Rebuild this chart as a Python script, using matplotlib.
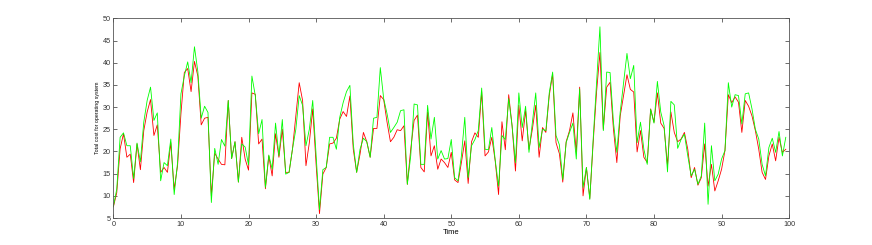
import numpy as np
import matplotlib
matplotlib.use("Agg")
import matplotlib.pyplot as plt

plt.rcParams['font.family'] = ['Liberation Sans', 'DejaVu Sans']

time = np.arange(0, 100, 0.5)

cost_red = [
    7.5, 10.7, 20.6, 24.0, 18.7, 19.4, 13.0, 21.7, 15.9, 24.7,
    28.9, 31.7, 23.6, 26.0, 15.3, 16.4, 15.3, 22.0, 11.5, 16.8,
    28.5, 37.8, 38.7, 33.5, 40.3, 37.0, 26.0, 27.5, 27.7, 10.0,
    19.6, 18.3, 17.1, 17.0, 31.5, 18.4, 22.2, 13.1, 23.2, 18.3,
    15.8, 33.2, 32.9, 21.7, 22.8, 11.6, 19.0, 14.5, 24.0, 18.7,
    25.0, 15.3, 15.3, 20.5, 28.0, 35.5, 31.5, 16.8, 22.0, 29.6,
    17.1, 6.0, 14.9, 16.4, 21.7, 21.9, 23.0, 27.3, 29.0, 27.9,
    32.5, 20.5, 15.3, 19.4, 24.3, 22.2, 18.7, 25.2, 25.2, 32.6,
    31.7, 26.6, 22.2, 23.2, 24.9, 24.7, 25.8, 12.6, 20.5, 27.0,
    28.2, 16.4, 15.4, 28.9, 19.0, 21.3, 16.0, 18.3, 17.5, 16.4,
    19.8, 13.6, 13.0, 17.5, 22.4, 12.8, 22.2, 24.2, 23.2, 33.5,
    19.0, 19.9, 23.2, 17.9, 10.3, 26.7, 20.4, 32.8, 25.8, 15.6,
    30.4, 22.4, 29.2, 20.5, 25.0, 30.4, 18.7, 25.4, 24.3, 32.6,
    37.5, 22.0, 19.5, 13.1, 22.2, 24.7, 28.7, 19.8, 34.5, 10.0,
    16.4, 9.4, 22.0, 33.4, 42.3, 25.0, 34.5, 35.6, 25.0, 17.5,
    28.0, 32.6, 37.3, 34.0, 33.4, 19.9, 24.7, 18.7, 17.5, 29.6,
    26.6, 33.2, 26.4, 25.2, 16.8, 28.9, 24.3, 22.2, 22.8, 24.3,
    20.5, 14.1, 16.4, 12.4, 14.1, 21.7, 12.2, 17.1, 11.1, 13.4,
    16.0, 20.2, 32.8, 31.0, 32.3, 31.1, 24.3, 31.5, 30.2, 28.0,
    24.7, 20.5, 15.3, 13.7, 19.0, 21.7, 17.9, 23.2, 19.8, 20.5,
]

cost_green = [
    7.6, 11.5, 23.2, 24.2, 21.3, 21.3, 13.9, 21.9, 17.7, 26.6,
    31.5, 34.5, 27.0, 28.7, 13.4, 17.5, 16.8, 22.8, 10.3, 17.5,
    33.0, 37.0, 40.2, 35.5, 43.6, 38.0, 27.5, 30.2, 28.8, 8.5,
    20.7, 17.1, 22.7, 21.2, 31.5, 18.4, 22.2, 13.1, 21.7, 21.0,
    17.0, 37.0, 32.6, 24.0, 27.2, 11.9, 19.2, 16.0, 26.4, 19.0,
    27.2, 14.9, 15.3, 20.5, 25.0, 32.6, 30.4, 21.3, 25.0, 31.5,
    19.0, 6.9, 15.9, 16.4, 23.2, 23.2, 20.5, 27.7, 31.0, 33.5,
    34.9, 21.7, 15.3, 20.5, 23.0, 22.2, 18.7, 27.5, 27.7, 38.9,
    31.9, 28.5, 24.3, 25.4, 26.6, 29.2, 29.4, 12.6, 19.0, 30.7,
    30.5, 17.1, 17.1, 30.4, 22.8, 27.7, 18.3, 20.2, 18.3, 18.4,
    22.7, 14.1, 13.4, 19.0, 27.7, 14.1, 21.3, 22.7, 24.7, 34.3,
    20.5, 20.4, 25.4, 18.1, 12.2, 23.6, 22.7, 31.9, 25.8, 17.5,
    33.2, 25.4, 30.2, 19.8, 26.6, 33.2, 20.9, 25.0, 24.7, 33.2,
    37.9, 23.6, 21.5, 13.7, 22.0, 24.3, 26.4, 18.3, 34.1, 11.9,
    16.4, 9.2, 22.8, 35.6, 48.1, 24.7, 37.9, 37.8, 26.6, 19.8,
    28.9, 35.6, 42.1, 36.4, 39.4, 22.0, 26.6, 20.5, 17.1, 29.5,
    26.4, 35.8, 28.9, 25.8, 15.4, 31.3, 30.5, 20.7, 22.7, 23.9,
    19.0, 14.5, 16.0, 12.6, 14.5, 26.4, 8.1, 21.3, 13.4, 14.9,
    18.3, 20.2, 35.5, 30.0, 32.8, 32.6, 26.2, 33.0, 33.2, 29.6,
    25.0, 22.8, 17.1, 14.5, 20.9, 23.0, 19.8, 24.5, 19.0, 23.2,
]

xticks = list(range(0, 101, 10))
yticks = list(range(5, 51, 5))

fig = plt.figure(figsize=(8.72, 2.45), dpi=100)
ax = fig.add_axes([0.13, 0.11, 0.775, 0.815])

ax.plot(time, cost_red, color=(1, 0, 0), lw=0.6)
ax.plot(time, cost_green, color=(0, 1, 0), lw=0.6)

ax.set_xlim(0, 100)
ax.set_ylim(5, 50)
ax.set_xticks(xticks)
ax.set_yticks(yticks)
ax.tick_params(direction='in', length=3, width=0.5, labelsize=5.2,
               top=True, right=True, colors='#333333', pad=2)
for s in ax.spines.values():
    s.set_linewidth(0.6)
    s.set_color('#555555')
ax.set_xlabel('Time', fontsize=5.5, labelpad=1)
ax.set_ylabel('Total cost for operating system', fontsize=3.8, labelpad=2)

fig.savefig('out.png', dpi=100)
